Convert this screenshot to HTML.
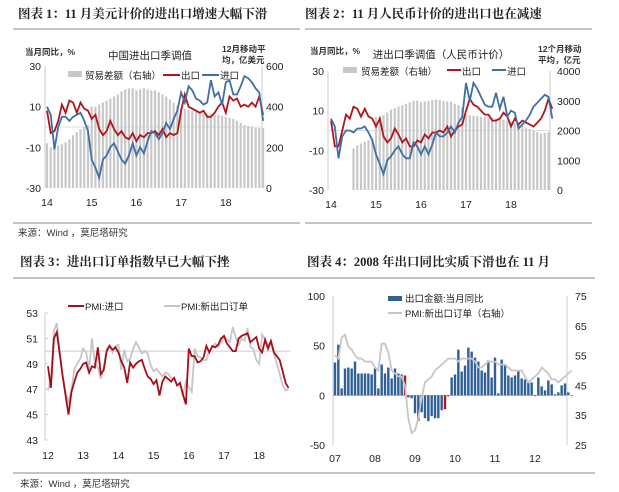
<!DOCTYPE html>
<html><head><meta charset="utf-8">
<style>
body{margin:0;background:#fff;width:619px;height:492px;overflow:hidden}
svg{display:block;font-family:"Liberation Sans","Noto Sans CJK SC",sans-serif}
.t{font-family:"Liberation Serif","Noto Serif CJK SC",serif;font-weight:bold;font-size:12.5px;fill:#222}
.s{font-size:9.5px;fill:#333}
.ax{font-size:10.5px;fill:#222}
</style></head><body>
<svg id="c" width="619" height="492" viewBox="0 0 619 492">
<text class="t" x="18" y="18">图表 1：11 月美元计价的进出口增速大幅下滑</text>
<text class="t" x="305" y="18">图表 2：11 月人民币计价的进出口也在减速</text>
<text class="t" x="20" y="266">图表 3：进出口订单指数早已大幅下挫</text>
<text class="t" x="307" y="266">图表 4：2008 年出口同比实质下滑也在 11 月</text>
<g stroke="#888" stroke-width="1">
<line x1="13" y1="29" x2="300" y2="29"/><line x1="305" y1="29" x2="592" y2="29"/>
<line x1="13" y1="223" x2="300" y2="223"/><line x1="305" y1="223" x2="592" y2="223"/>
<line x1="13" y1="278" x2="306" y2="278"/><line x1="305" y1="278" x2="595" y2="278"/>
<line x1="13" y1="473" x2="306" y2="473"/><line x1="305" y1="473" x2="595" y2="473"/>
</g>
<text class="s" x="18" y="236">来源：Wind ，莫尼塔研究</text>
<text class="s" x="20" y="487">来源：Wind ，莫尼塔研究</text>
<g id="p1"></g>
<g id="p2"></g>
<g id="p3"></g>
<g id="p4"></g>
</svg>
<script>
// ---- Chart 1 data (Jan14 - Nov18) ----
const years1 = ['14','15','16','17','18'];
const exp1 = [8,-3,-2,3,11,7,13,12,7,12,9,8, 4,6,-1,-4,-2,3,-1,-4,-2,-5,-6,-3, -7,-4,-5,-3,-3,-2,-4,-1,-5,-3,-4,-3, 8,16,10,9,8,7,8,5,5,7,10,12, 7,15,13,14,10,11,10,12,10,15,6];
const imp1 = [10,6,-11,0,5,5,3,5,6,7,3,-2, -16,-20,-25,-16,-14,-10,-8,-12,-16,-18,-14,-8, -14,-10,-13,-7,-2,-3,-6,-3,2,-1,4,8, 17,12,20,18,14,13,11,12,23,15,17,11, 22,23,16,16,20,25,24,22,19,17,3];
const bal1 = [220,200,205,210,215,225,240,260,275,290,300,310, 400,400,410,420,430,440,450,460,475,485,490,490, 480,485,490,485,480,480,470,460,450,435,420,405, 395,390,385,380,375,375,370,365,365,360,360,355, 350,345,340,330,320,310,305,300,295,295,295];
const leftTicks1 = [30,10,-10,-30];
const rightTicks1 = [600,400,200,0];
// ---- Chart 2 data (Jan14 - Nov18, RMB) ----
const exp2 = [5,-8,-8,0,8,6,12,11,7,11,7,6, 2,6,-3,-6,-4,1,-2,-6,-4,-8,-8,-5, -6,-2,-4,-1,-1,0,-1,2,-3,0,2,3, 10,16,13,12,10,8,8,5,5,6,9,7, 2,6,3,5,4,3,2,4,6,10,16,11];
const imp2 = [6,2,-14,-3,0,0,-1,1,1,2,-1,-5, -12,-17,-22,-15,-13,-10,-8,-12,-14,-14,-6,-8, -12,-8,-12,-7,-1,-3,-3,-1,2,-1,4,7, 24,15,24,21,17,13,12,12,19,11,17,7, 10,9,1,3,5,8,12,14,16,18,17,6];
const bal2 = [0,0,0,0,0,0,1400,1500,1560,1620,1680,1750, 2450,2480,2520,2600,2700,2750,2800,2850,2900,2950,3000,3000, 2950,2980,3000,3020,3040,3030,3000,2980,2960,2900,2850,2780, 2540,2520,2500,2480,2460,2450,2440,2430,2400,2380,2360,2330, 2300,2250,2200,2150,2100,2050,2000,1950,1900,1920,1950];
const leftTicks2 = [30,10,-10,-30];
const rightTicks2 = [4000,3000,2000,1000,0];
// ---- Chart 3 data (Jan12 - Nov18) ----
const years3 = ['12','13','14','15','16','17','18'];
const pmiImp = [48.8,47.1,51.0,51.5,49.8,48.0,46.5,45.0,46.8,47.6,48.3,48.6, 49.0,49.1,48.3,48.8,48.7,50.3,48.2,48.5,50.0,50.4,50.1,50.3, 49.9,49.2,48.7,47.5,49.1,48.7,49.0,49.2,49.3,48.6,48.0,47.8, 47.4,47.7,46.5,47.6,48.0,47.8,47.6,47.9,47.3,47.5,46.6,45.8, 50.2,49.6,49.6,49.1,49.2,49.5,50.4,49.9,50.4,50.3,50.5,51.0, 51.2,50.6,50.3,50.0,50.0,51.0,51.2,51.3,51.4,50.7,50.9,51.1, 50.2,49.9,50.9,50.2,50.8,49.9,49.6,49.3,48.4,47.5,47.1];
const pmiExpOrd = [46.9,47.8,51.6,52.2,50.0,48.0,46.8,46.0,47.0,48.6,49.0,49.4, 50.2,49.9,48.6,51.0,49.0,48.7,47.8,48.7,50.2,50.5,49.9,50.4, 50.5,48.5,50.1,49.2,49.4,50.2,50.7,50.3,49.8,50.0,49.8,48.9, 48.4,48.6,48.3,48.0,48.3,48.2,47.9,47.8,47.3,47.4,46.5,47.6, 47.2,46.8,50.2,49.6,49.5,49.3,49.3,50.0,50.3,50.6,50.3,50.7, 51.2,50.9,50.7,51.9,51.1,50.5,51.0,50.8,51.8,50.3,50.2,49.3, 49.0,51.3,50.9,50.5,50.7,49.8,49.0,48.2,47.3,46.9,47.0];
const ticks3 = [53,51,49,47,45,43];
// ---- Chart 4 data (Jan07 - Dec12) ----
const years4 = ['07','08','09','10','11','12'];
const expYoY = [33,51,7,27,28,27,34,22,22,22,22,21, 27,7,31,22,28,17,27,22,21,20,-2,-3, -18,-26,-17,-23,-26,-21,-23,-23,-15,-14,-1,18, 21,46,24,30,48,44,38,34,25,23,35,18, 38,2,36,30,20,18,20,24,17,16,14,13, 0,18,9,5,15,11,1,3,10,12,3,0];
const redIdx = [21,22,33,34];
const pmi4 = [55,54,61,62,58,57,55,54,54,53,53,53, 51,50,59,59,56,50,49,48,48,45,34,29, 30,34,41,46,47,48,50,51,52,53,54,54, 54,53,54,54,54,54,53,51,51,52,53,53, 53,52,52,52,51,50,50,50,50,48,46,47, 48,49,51,50,49,47,47,46,47,48,49,50];
const leftTicks4 = [100,50,0,-50];
const rightTicks4 = [75,65,55,45,35,25];

const NS='http://www.w3.org/2000/svg';
function mk(parent,tag,attrs,text){const e=document.createElementNS(NS,tag);for(const k in attrs)e.setAttribute(k,attrs[k]);if(text!==undefined)e.textContent=text;parent.appendChild(e);return e;}
function pathD(arr,fx,fy,start){let d='';arr.forEach((v,i)=>{d+=(i?'L':'M')+fx(i+(start||0)).toFixed(1)+' '+fy(v).toFixed(1);});return d;}

// ===== Chart 1 =====
(function(){
const g=document.getElementById('p1');
const x=i=>47+i*44.7/12, yL=v=>66+(30-v)*122/60, yR=v=>188-v*122/600;
mk(g,'line',{x1:45,y1:66,x2:45,y2:188,stroke:'#ccc'});
mk(g,'line',{x1:262,y1:66,x2:262,y2:188,stroke:'#ccc'});
mk(g,'line',{x1:45,y1:yL(0),x2:262,y2:yL(0),stroke:'#ddd'});
bal1.forEach((v,i)=>{const b=mk(g,'rect',{x:x(i)-1.1,y:yR(v),width:2.2,height:188-yR(v),fill:'#c8c8c8'});

});
const pe=mk(g,'path',{d:pathD(exp1,x,yL),fill:'none',stroke:'#b0161c','stroke-width':1.8});


const pi=mk(g,'path',{d:pathD(imp1,x,yL),fill:'none',stroke:'#3f6fa3','stroke-width':1.8});


leftTicks1.forEach(v=>mk(g,'text',{x:41,y:yL(v)+4,'text-anchor':'end',class:'ax'},String(v)));
rightTicks1.forEach(v=>mk(g,'text',{x:266,y:yR(v)+4,class:'ax'},String(v)));
years1.forEach((t,k)=>mk(g,'text',{x:x(k*12),y:206,'text-anchor':'middle',class:'ax'},t));
mk(g,'text',{x:25,y:55,style:'font-size:8.5px;font-weight:bold;fill:#333'},'当月同比，%');
mk(g,'text',{x:150,y:59,'text-anchor':'middle',style:'font-size:10.5px;fill:#222'},'中国进出口季调值');
mk(g,'text',{x:222,y:52,style:'font-size:8.5px;font-weight:bold;fill:#333'},'12月移动平');
mk(g,'text',{x:222,y:63,style:'font-size:8.5px;font-weight:bold;fill:#333'},'均，亿美元');
mk(g,'rect',{x:68,y:71,width:14,height:6,fill:'#c8c8c8'});
mk(g,'text',{x:85,y:79,style:'font-size:9.5px;fill:#222'},'贸易差额（右轴）');
mk(g,'line',{x1:163,y1:75,x2:180,y2:75,stroke:'#b0161c','stroke-width':2});
mk(g,'text',{x:181,y:79,style:'font-size:9.5px;fill:#222'},'出口');
mk(g,'line',{x1:202,y1:75,x2:219,y2:75,stroke:'#3f6fa3','stroke-width':2});
mk(g,'text',{x:220,y:79,style:'font-size:9.5px;fill:#222'},'进口');
})();

// ===== Chart 2 =====
(function(){
const g=document.getElementById('p2');
const x=i=>331+i*45/12, yL=v=>71+(30-v)*119/60, yR=v=>190-v*119/4000;
mk(g,'line',{x1:328,y1:71,x2:328,y2:190,stroke:'#ccc'});
mk(g,'line',{x1:550,y1:71,x2:550,y2:190,stroke:'#ccc'});
mk(g,'line',{x1:328,y1:yL(0),x2:550,y2:yL(0),stroke:'#ddd'});
bal2.forEach((v,i)=>{if(v<=0)return;const b=mk(g,'rect',{x:x(i)-1.1,y:yR(v),width:2.2,height:190-yR(v),fill:'#c8c8c8'});

});
const pe=mk(g,'path',{d:pathD(exp2,x,yL),fill:'none',stroke:'#b0161c','stroke-width':1.8});


const pi=mk(g,'path',{d:pathD(imp2,x,yL),fill:'none',stroke:'#3f6fa3','stroke-width':1.8});


leftTicks2.forEach(v=>mk(g,'text',{x:324,y:yL(v)+4,'text-anchor':'end',class:'ax'},String(v)));
rightTicks2.forEach(v=>mk(g,'text',{x:557,y:yR(v)+4,class:'ax'},String(v)));
years1.forEach((t,k)=>mk(g,'text',{x:x(k*12),y:208,'text-anchor':'middle',class:'ax'},t));
mk(g,'text',{x:310,y:54,style:'font-size:8.5px;font-weight:bold;fill:#333'},'当月同比，%');
mk(g,'text',{x:441,y:58,'text-anchor':'middle',style:'font-size:10.5px;fill:#222'},'进出口季调值（人民币计价）');
mk(g,'text',{x:538,y:52,style:'font-size:8.5px;font-weight:bold;fill:#333'},'12个月移动');
mk(g,'text',{x:538,y:63,style:'font-size:8.5px;font-weight:bold;fill:#333'},'平均，亿元');
mk(g,'rect',{x:343,y:67,width:14,height:6,fill:'#c8c8c8'});
mk(g,'text',{x:361,y:75,style:'font-size:9.5px;fill:#222'},'贸易差额（右轴）');
mk(g,'line',{x1:447,y1:70,x2:461,y2:70,stroke:'#b0161c','stroke-width':2});
mk(g,'text',{x:462,y:75,style:'font-size:9.5px;fill:#222'},'出口');
mk(g,'line',{x1:492,y1:70,x2:506,y2:70,stroke:'#3f6fa3','stroke-width':2});
mk(g,'text',{x:507,y:75,style:'font-size:9.5px;fill:#222'},'进口');
})();

// ===== Chart 3 =====
(function(){
const g=document.getElementById('p3');
const x=i=>48+i*35.2/12, y=v=>313+(53-v)*12.7;
mk(g,'line',{x1:45,y1:313,x2:45,y2:440,stroke:'#ccc'});
ticks3.forEach(v=>mk(g,'line',{x1:45,y1:y(v),x2:48,y2:y(v),stroke:'#ccc'}));
mk(g,'line',{x1:45,y1:y(50),x2:290,y2:y(50),stroke:'#ccc'});
const pg=mk(g,'path',{d:pathD(pmiExpOrd,x,y),fill:'none',stroke:'#c6c6c6','stroke-width':1.8});


const pr=mk(g,'path',{d:pathD(pmiImp,x,y),fill:'none',stroke:'#a3101a','stroke-width':1.8});


ticks3.forEach(v=>mk(g,'text',{x:38,y:y(v)+4,'text-anchor':'end',class:'ax'},String(v)));
years3.forEach((t,k)=>mk(g,'text',{x:x(k*12),y:459,'text-anchor':'middle',class:'ax'},t));
mk(g,'line',{x1:68,y1:306,x2:84,y2:306,stroke:'#a3101a','stroke-width':2});
mk(g,'text',{x:85,y:310,style:'font-size:9.5px;fill:#222'},'PMI:进口');
mk(g,'line',{x1:164,y1:306,x2:180,y2:306,stroke:'#c6c6c6','stroke-width':2});
mk(g,'text',{x:181,y:310,style:'font-size:9.5px;fill:#222'},'PMI:新出口订单');
})();

// ===== Chart 4 =====
(function(){
const g=document.getElementById('p4');
const x=i=>335+i*40/12, yL=v=>296+(100-v)*149/150, yR=v=>296+(75-v)*149/50;
mk(g,'line',{x1:333,y1:296,x2:333,y2:445,stroke:'#ccc'});
mk(g,'line',{x1:567,y1:296,x2:567,y2:445,stroke:'#ccc'});
mk(g,'line',{x1:333,y1:yL(0),x2:567,y2:yL(0),stroke:'#bbb'});
expYoY.forEach((v,i)=>{const y0=yL(0),y1=yL(v);const b=mk(g,'rect',{x:x(i)-1.2,y:Math.min(y0,y1),width:2.4,height:Math.max(0.8,Math.abs(y1-y0)),fill:redIdx.includes(i)?'#b0161c':'#2f5f95'});

});
const pl=mk(g,'path',{d:pathD(pmi4,x,yR),fill:'none',stroke:'#c6c6c6','stroke-width':1.8});


leftTicks4.forEach(v=>mk(g,'text',{x:325,y:yL(v)+4,'text-anchor':'end',class:'ax'},String(v)));
rightTicks4.forEach(v=>mk(g,'text',{x:575,y:yR(v)+4,class:'ax'},String(v)));
years4.forEach((t,k)=>mk(g,'text',{x:x(k*12),y:462,'text-anchor':'middle',class:'ax'},t));
mk(g,'rect',{x:388,y:296,width:14,height:5,fill:'#2f5f95'});
mk(g,'text',{x:405,y:302,style:'font-size:9.5px;fill:#222'},'出口金额:当月同比');
mk(g,'line',{x1:388,y1:313,x2:402,y2:313,stroke:'#c6c6c6','stroke-width':2});
mk(g,'text',{x:405,y:317,style:'font-size:9.5px;fill:#222'},'PMI:新出口订单（右轴）');
})();
</script>
</body></html>
